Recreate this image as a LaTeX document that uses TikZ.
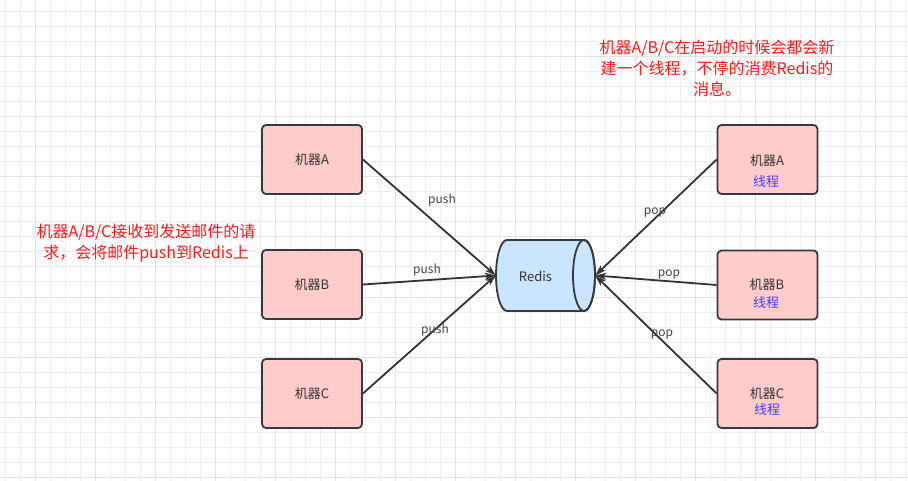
\documentclass[tikz,border=0pt]{standalone}
\usepackage{fontspec}
\setmainfont{Noto Sans CJK SC}
\usetikzlibrary{arrows.meta}
\definecolor{gridminor}{HTML}{EFEFEF}
\definecolor{gridmajor}{HTML}{E2E2E2}
\definecolor{boxfill}{HTML}{FFCCCC}
\definecolor{boxline}{HTML}{36393D}
\definecolor{cylfill}{HTML}{CCE5FF}
\definecolor{txt}{HTML}{333333}
\definecolor{lbl}{HTML}{444444}
\definecolor{thread}{HTML}{4040FF}
\definecolor{note}{HTML}{FF1A1A}
\tikzset{
  mbox/.style={draw=boxline, fill=boxfill, line width=1.8pt, rounded corners=4pt,
    minimum width=100pt, minimum height=69pt, inner sep=0pt, text=txt,
    font=\fontsize{13}{15}\selectfont},
  boxtxt/.style={inner sep=0pt, text=txt, font=\fontsize{13}{15}\selectfont},
  thr/.style={inner sep=0pt, text=thread, font=\fontsize{13}{15}\selectfont},
  conn/.style={draw=txt, line width=1.8pt, -{Stealth[length=11pt,width=7pt,inset=3pt]}},
  elabel/.style={inner sep=0pt, text=lbl, font=\fontsize{12}{14}\selectfont},
  notetxt/.style={inner sep=0pt, text=note, align=center, font=\fontsize{16}{21}\selectfont}
}
\begin{document}
\begin{tikzpicture}[x=1pt,y=-1pt]
\useasboundingbox (0,0) rectangle (908,481);
\fill[white] (0,0) rectangle (908,481);
% grid
\foreach \gx in {5,20,...,905} {\draw[gridminor, line width=1pt] (\gx,0) -- (\gx,481);}
\foreach \gy in {12,27,...,480} {\draw[gridminor, line width=1pt] (0,\gy) -- (908,\gy);}
\foreach \gx in {35,95,...,905} {\draw[gridmajor, line width=1pt] (\gx,0) -- (\gx,481);}
\foreach \gy in {57,117,...,480} {\draw[gridmajor, line width=1pt] (0,\gy) -- (908,\gy);}

% left machines
\node[mbox] (lA) at (312,159.5) {机器A};
\node[mbox] (lB) at (312,284.5) {机器B};
\node[mbox] (lC) at (312,393.5) {机器C};

% right machines
\node[mbox] (rA) at (767.5,159.5) {};
\node[mbox] (rB) at (767.5,285) {};
\node[mbox] (rC) at (767.5,393.5) {};
\node[boxtxt] (rAt) at (767,161) {机器A};
\node[thr] (rAth) at (766,182) {线程};
\node[boxtxt] (rBt) at (767,285) {机器B};
\node[thr] (rBth) at (766,303) {线程};
\node[boxtxt] (rCt) at (767,394) {机器C};
\node[thr] (rCth) at (767,410) {线程};

% redis cylinder
\node[minimum width=99pt, minimum height=71pt, inner sep=0pt] (redis) at (545.5,275.5) {};
\draw[draw=boxline, fill=cylfill, line width=1.8pt]
  (584,240) -- (507,240) arc[start angle=90, end angle=270, x radius=11pt, y radius=35.5pt]
  -- (584,311) arc[start angle=-90, end angle=90, x radius=11pt, y radius=35.5pt] -- cycle;
\draw[draw=boxline, line width=1.8pt] (584,275.5) ellipse[x radius=11pt, y radius=35.5pt];
\node[boxtxt] (redist) at (535.5,276) {Redis};

% connectors
\draw[conn] (lA.east) -- (redis.west);
\draw[conn] (lB.east) -- (redis.west);
\draw[conn] (lC.east) -- (redis.west);
\draw[conn] (rA.west) -- (redis.east);
\draw[conn] (rB.west) -- (redis.east);
\draw[conn] (rC.west) -- (redis.east);

% connector labels
\node[elabel] (p1) at (442,200) {push};
\node[elabel] (p2) at (427,270) {push};
\node[elabel] (p3) at (435,330) {push};
\node[elabel] (q1) at (655,213) {pop};
\node[elabel] (q2) at (669,275) {pop};
\node[elabel] (q3) at (662,335) {pop};

% notes
\node[notetxt] (nL) at (146,243) {机器A/B/C接收到发送邮件的请\\求，会将邮件push到Redis上};
\node[notetxt] (nR) at (717,68) {机器A/B/C在启动的时候会都会新\\建一个线程，不停的消费Redis的\\消息。};
\end{tikzpicture}
\end{document}
